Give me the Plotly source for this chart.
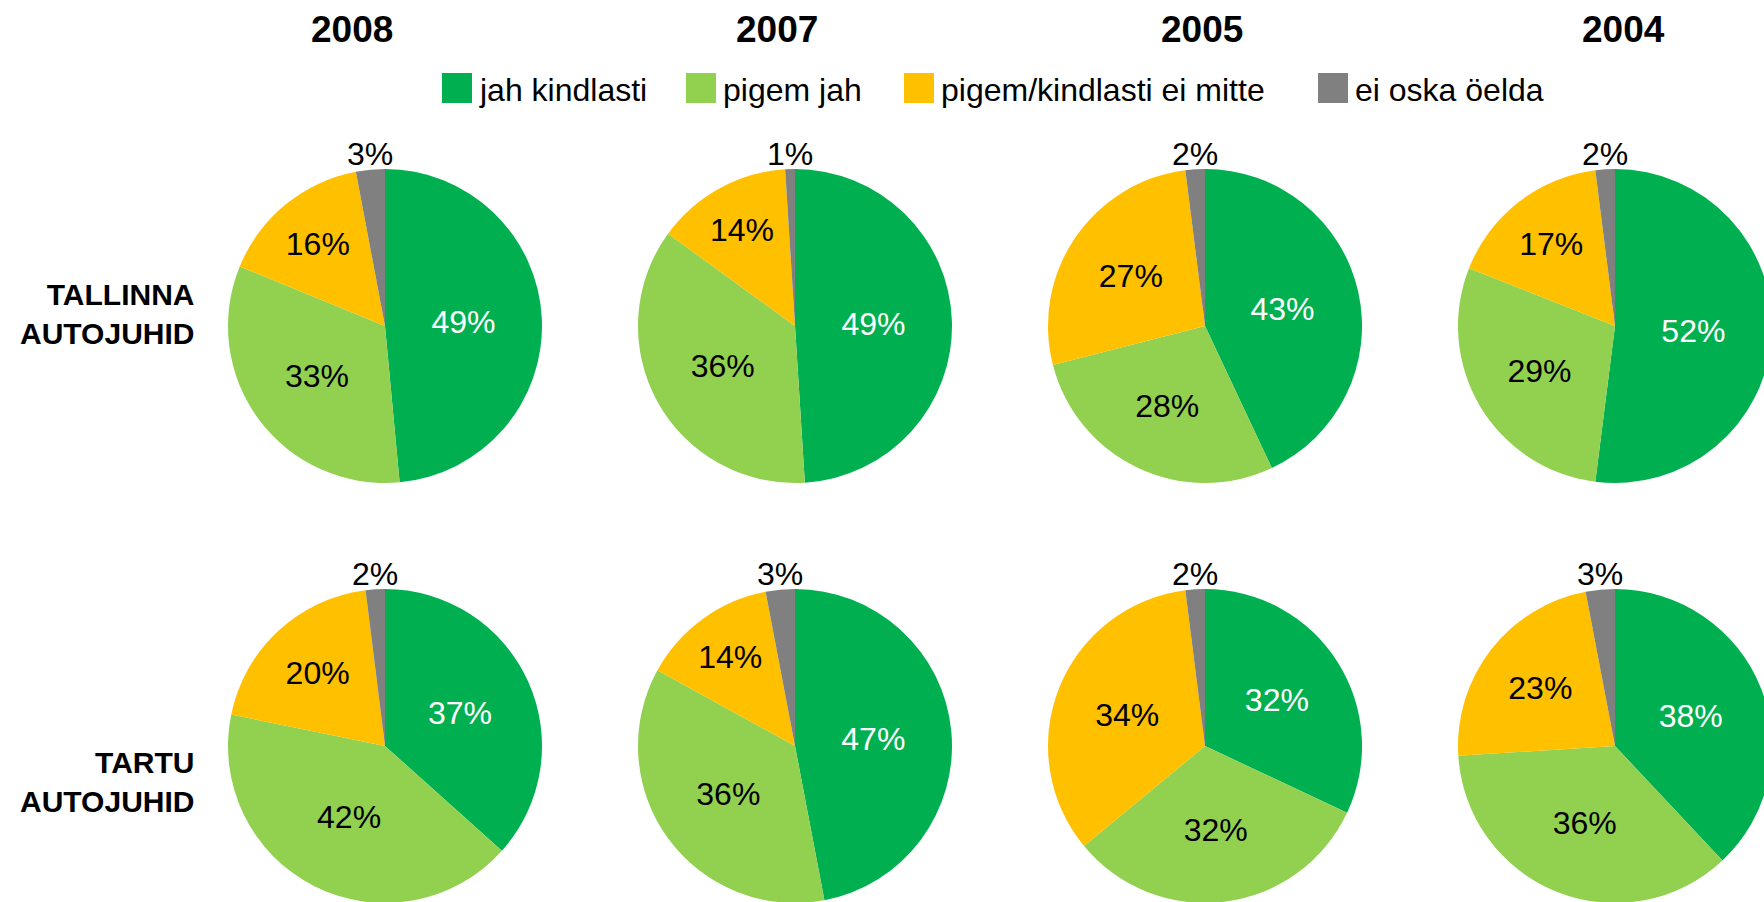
## ----------- imports ----------- ##
import math
import plotly.graph_objects as go


## ----------- data ----------- ##
YEARS = ["2008", "2007", "2005", "2004"]
GROUPS = ["TALLINNA<br>AUTOJUHID", "TARTU<br>AUTOJUHID"]
ANSWERS = ["jah kindlasti", "pigem jah", "pigem/kindlasti ei mitte", "ei oska öelda"]

# one row per year (2008, 2007, 2005, 2004), values in answer order
TALLINN_VALUES = [
	[49, 33, 16, 3],
	[49, 36, 14, 1],
	[43, 28, 27, 2],
	[52, 29, 17, 2],
]
TARTU_VALUES = [
	[37, 42, 20, 2],
	[47, 36, 14, 3],
	[32, 32, 34, 2],
	[38, 36, 23, 3],
]


## ----------- style / layout ----------- ##
COLORS = ["#00B050", "#92D050", "#FFC000", "#808080"]
TEXT_COLORS = ["white", "black", "black", "black"]
# the tiny "ei oska öelda" slice gets its label above the pie (see below)
TEXT_POS = ["inside", "inside", "inside", "none"]
FONT = "Liberation Sans, Arial, sans-serif"

# the figure is a bit larger than the window so the right/bottom pies get cut off
W, H = 1800, 930
PIE_R = 157
COL_X = [385, 795, 1205, 1615]
ROW_Y = [326, 746]
TITLE_X = [352, 777, 1202, 1623]
TITLE_Y = 30
GROUP_LABEL_X = 196
GROUP_LABEL_Y = [314, 782]
LEGEND_BOX_X = [442, 686, 904, 1318]
LEGEND_Y = 88
LEGEND_BOX = 30


def px_x(x):
	return x / W


def px_y(y):
	return 1 - y / H


## ----------- plot ----------- ##
fig = go.Figure()

for row, values_by_year in enumerate([TALLINN_VALUES, TARTU_VALUES]):
	for col, values in enumerate(values_by_year):
		cx, cy = COL_X[col], ROW_Y[row]
		fig.add_trace(go.Pie(
			labels=ANSWERS,
			values=values,
			sort=False,
			direction="clockwise",
			rotation=0,
			marker=dict(colors=COLORS, line=dict(width=0)),
			texttemplate="%{value}%",
			textposition=TEXT_POS,
			insidetextorientation="horizontal",
			textfont=dict(family=FONT, size=32, color=TEXT_COLORS),
			domain=dict(
				x=[px_x(cx - PIE_R), px_x(cx + PIE_R)],
				y=[px_y(cy + PIE_R), px_y(cy - PIE_R)],
			),
			showlegend=False,
			hoverinfo="label+value",
		))

		# label of the last (grey) slice, sitting just above its wedge
		share = values[-1] / sum(values)
		fig.add_annotation(
			x=px_x(cx - PIE_R * math.sin(math.pi * share)),
			y=px_y(cy - PIE_R - 15),
			xref="paper", yref="paper",
			text=f"{values[-1]}%", showarrow=False,
			xanchor="center", yanchor="middle",
			font=dict(family=FONT, size=32, color="black"),
		)

for col, year in enumerate(YEARS):
	fig.add_annotation(
		x=px_x(TITLE_X[col]), y=px_y(TITLE_Y), xref="paper", yref="paper",
		text=f"<b>{year}</b>", showarrow=False,
		xanchor="center", yanchor="middle",
		font=dict(family=FONT, size=37, color="black"),
	)

for row, group in enumerate(GROUPS):
	fig.add_annotation(
		x=px_x(GROUP_LABEL_X), y=px_y(GROUP_LABEL_Y[row]), xref="paper", yref="paper",
		text=f"<b>{group}</b>", showarrow=False,
		xanchor="right", yanchor="middle", align="right",
		font=dict(family=FONT, size=30, color="black"),
	)

# legend: coloured squares + answer text
for i, answer in enumerate(ANSWERS):
	x0 = LEGEND_BOX_X[i]
	fig.add_shape(
		type="rect", xref="paper", yref="paper",
		x0=px_x(x0), x1=px_x(x0 + LEGEND_BOX),
		y0=px_y(LEGEND_Y + LEGEND_BOX / 2), y1=px_y(LEGEND_Y - LEGEND_BOX / 2),
		fillcolor=COLORS[i], line=dict(width=0),
	)
	fig.add_annotation(
		x=px_x(x0 + LEGEND_BOX + 5), y=px_y(LEGEND_Y + 2), xref="paper", yref="paper",
		text=answer, showarrow=False,
		xanchor="left", yanchor="middle",
		font=dict(family=FONT, size=32, color="black"),
	)

fig.update_layout(
	width=W,
	height=H,
	margin=dict(l=0, r=0, t=0, b=0),
	paper_bgcolor="white",
	plot_bgcolor="white",
	font=dict(family=FONT, color="black"),
	showlegend=False,
)

fig.write_html(
	"out.html",
	config={"displayModeBar": False},
	post_script="document.body.style.margin='0';document.body.style.overflow='hidden';",
)
